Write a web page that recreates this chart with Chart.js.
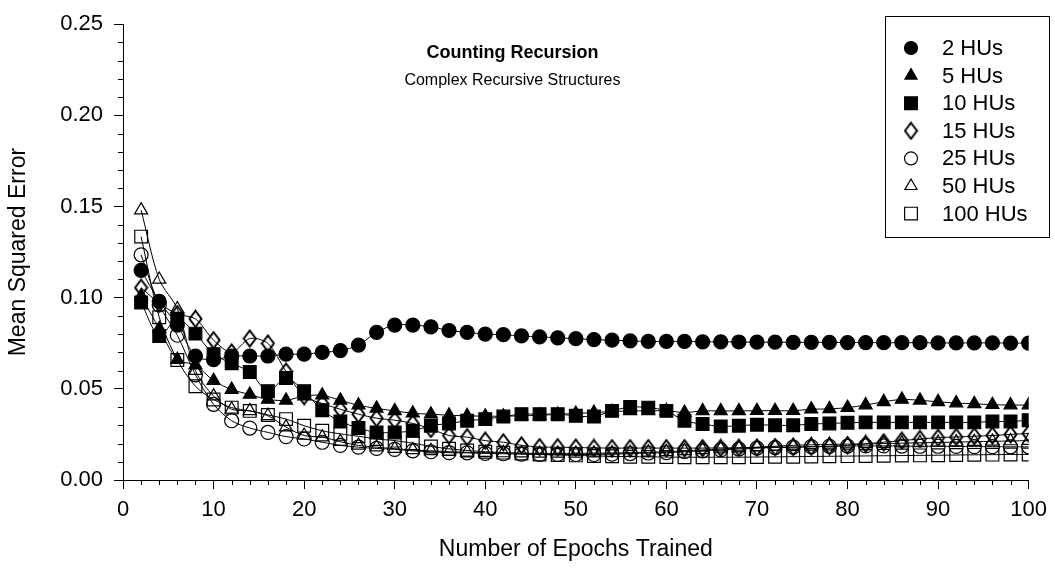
<!DOCTYPE html>
<html>
<head>
<meta charset="utf-8">
<title>Counting Recursion</title>
<script src="https://cdn.jsdelivr.net/npm/chart.js@4.4.1/dist/chart.umd.min.js"></script>
<style>
  html, body { margin: 0; padding: 0; background: #fff; }
  #wrap { width: 1055px; height: 569px; }
</style>
</head>
<body>
<div id="wrap"><canvas id="mseChart" width="1055" height="569"></canvas></div>
<script>
// Epochs trained (x values)
const epochs = [2,4,6,8,10,12,14,16,18,20,22,24,26,28,30,32,34,36,38,40,42,44,46,48,50,
                52,54,56,58,60,62,64,66,68,70,72,74,76,78,80,82,84,86,88,90,92,94,96,98,100];

// Mean squared error per network size
const hu2   = [0.115,0.098,0.085,0.068,0.066,0.068,0.068,0.068,0.069,0.069,0.070,0.071,0.074,0.081,0.085,0.085,0.084,0.082,0.081,0.080,
               0.0797,0.079,0.0785,0.078,0.0775,0.077,0.0767,0.0763,0.076,0.076,0.076,0.0758,0.0758,0.0757,0.0756,0.0756,0.0755,0.0755,0.0755,0.0754,
               0.0754,0.0753,0.0753,0.0753,0.0752,0.0752,0.0752,0.0752,0.0751,0.0751];
const hu5   = [0.101,0.083,0.066,0.063,0.0545,0.0496,0.0469,0.0442,0.0437,0.046,0.0465,0.0437,0.041,0.0393,0.0379,0.0366,0.0361,0.0355,0.0352,0.035,
               0.035,0.0352,0.0355,0.036,0.0365,0.037,0.0375,0.0379,0.0379,0.038,0.037,0.0379,0.0379,0.0379,0.038,0.038,0.038,0.0388,0.039,0.0397,
               0.0411,0.0429,0.0442,0.0437,0.0429,0.0422,0.0418,0.0413,0.0411,0.0411];
const hu10  = [0.0974,0.079,0.0884,0.0803,0.069,0.064,0.0592,0.0487,0.0559,0.0487,0.0383,0.0321,0.0285,0.0261,0.0261,0.027,0.0298,0.031,0.0325,0.0334,
               0.0348,0.0361,0.0361,0.0361,0.0352,0.0348,0.0379,0.040,0.0397,0.0379,0.0325,0.0307,0.0294,0.0298,0.0303,0.030,0.030,0.0307,0.031,0.0314,
               0.0316,0.0316,0.0316,0.0316,0.0316,0.0316,0.0316,0.0321,0.0321,0.0328];
const hu15  = [0.1055,0.097,0.091,0.0884,0.0767,0.070,0.0776,0.0749,0.0595,0.046,0.042,0.0388,0.0361,0.0339,0.0328,0.031,0.028,0.0244,0.0235,0.0216,
               0.0207,0.019,0.0181,0.018,0.0178,0.0176,0.0175,0.0175,0.0175,0.0175,0.0175,0.0175,0.0176,0.0177,0.0178,0.018,0.018,0.0182,0.0185,0.019,
               0.0198,0.0207,0.0216,0.0225,0.0232,0.0236,0.024,0.0244,0.025,0.0255];
const hu25  = [0.1235,0.096,0.0794,0.0577,0.0415,0.0325,0.0285,0.0261,0.0238,0.0225,0.0207,0.019,0.018,0.0173,0.0168,0.016,0.0155,0.015,0.0149,0.0146,
               0.0144,0.0142,0.014,0.014,0.014,0.014,0.0142,0.0145,0.0148,0.015,0.0155,0.016,0.0165,0.017,0.0175,0.0178,0.018,0.0183,0.0185,0.0186,
               0.0187,0.0187,0.0186,0.0185,0.0185,0.0184,0.0183,0.0183,0.0182,0.0182];
const hu50  = [0.148,0.110,0.0938,0.060,0.046,0.0388,0.0379,0.0352,0.029,0.0244,0.0235,0.021,0.019,0.018,0.0172,0.0165,0.016,0.0155,0.0152,0.015,
               0.0148,0.0147,0.0146,0.0146,0.0146,0.0147,0.0148,0.015,0.0152,0.0155,0.016,0.0165,0.017,0.0175,0.018,0.0185,0.019,0.0193,0.0195,0.0197,
               0.0198,0.020,0.0202,0.0204,0.0206,0.0208,0.021,0.0212,0.0214,0.0216];
const hu100 = [0.1335,0.0893,0.0658,0.0514,0.0442,0.0397,0.0379,0.0357,0.0334,0.0298,0.027,0.0253,0.024,0.0225,0.0216,0.0202,0.0184,0.0171,0.0162,0.0155,
               0.015,0.0145,0.014,0.0137,0.0135,0.0132,0.013,0.0128,0.0127,0.0126,0.0125,0.0125,0.0125,0.0125,0.0126,0.0127,0.0128,0.0129,0.013,0.0131,
               0.0132,0.0133,0.0134,0.0135,0.0136,0.0137,0.0138,0.0139,0.014,0.014];

const seriesLabels = ['2 HUs', '5 HUs', '10 HUs', '15 HUs', '25 HUs', '50 HUs', '100 HUs'];
const seriesValues = [hu2, hu5, hu10, hu15, hu25, hu50, hu100];

const FONT = '"Liberation Sans", Arial, Helvetica, sans-serif';
const CLEAR = 'rgba(0,0,0,0)';

// tall open diamond, drawn once and used as a point style
function makeDiamond(w, h) {
  const c = document.createElement('canvas');
  c.width = w;
  c.height = h;
  const g = c.getContext('2d');
  g.strokeStyle = '#000';
  g.lineWidth = 2;
  g.lineJoin = 'miter';
  g.beginPath();
  g.moveTo(w / 2, 1.5);
  g.lineTo(w - 1.5, h / 2);
  g.lineTo(w / 2, h - 1.5);
  g.lineTo(1.5, h / 2);
  g.closePath();
  g.stroke();
  return c;
}
const diamond = makeDiamond(15, 19);

// marker look for each series (same order as the labels)
const markers = [
  { style: 'circle',   fill: '#000', r: 7,   lr: 6.5 },
  { style: 'triangle', fill: '#000', r: 7.5, lr: 7 },
  { style: 'rect',     fill: '#000', r: 9,   lr: 9 },
  { style: diamond,    fill: CLEAR,  r: 7.5, lr: 8 },
  { style: 'circle',   fill: CLEAR,  r: 7,   lr: 6.5 },
  { style: 'triangle', fill: CLEAR,  r: 7.5, lr: 7 },
  { style: 'rect',     fill: CLEAR,  r: 9,   lr: 9 }
];

const datasets = seriesLabels.map((label, i) => ({
  label: label,
  data: epochs.map((e, j) => ({ x: e, y: seriesValues[i][j] })),
  borderColor: '#000',
  borderWidth: 1,
  tension: 0.3,
  pointStyle: markers[i].style,
  pointRadius: markers[i].r,
  pointBackgroundColor: markers[i].fill,
  pointBorderColor: '#000',
  pointBorderWidth: 1.2,
  legendRadius: markers[i].lr,
  fill: false
}));

// shorter outward minor ticks on both axes
const minorTicks = {
  id: 'minorTicks',
  afterDraw(chart) {
    const { ctx, scales: { x, y } } = chart;
    ctx.save();
    ctx.strokeStyle = '#000';
    ctx.lineWidth = 1;
    ctx.beginPath();
    for (let v = 2; v < 100; v += 2) {
      if (v % 10 === 0) continue;
      const px = Math.round(x.getPixelForValue(v)) + 0.5;
      ctx.moveTo(px, x.top);
      ctx.lineTo(px, x.top + 5);
    }
    for (let k = 1; k < 25; k++) {
      if (k % 5 === 0) continue;
      const py = Math.round(y.getPixelForValue(k / 100)) + 0.5;
      ctx.moveTo(y.right, py);
      ctx.lineTo(y.right - 5, py);
    }
    ctx.stroke();
    ctx.restore();
  }
};

// title text inside the plot and boxed legend at top right
const plotText = {
  id: 'plotText',
  afterDatasetsDraw(chart) {
    const ctx = chart.ctx;
    const area = chart.chartArea;
    ctx.save();
    ctx.fillStyle = '#000';
    ctx.textAlign = 'center';
    ctx.textBaseline = 'middle';
    const cx = chart.scales.x.getPixelForValue(43);
    ctx.font = 'bold 18px ' + FONT;
    ctx.fillText('Counting Recursion', cx, area.top + 29);
    ctx.font = '16px ' + FONT;
    ctx.fillText('Complex Recursive Structures', cx, area.top + 56);

    // legend
    const left = 885, top = 16, w = 164, h = 221;
    ctx.fillStyle = '#fff';
    ctx.fillRect(left, top, w, h);
    ctx.strokeStyle = '#000';
    ctx.lineWidth = 1;
    ctx.strokeRect(left + 0.5, top + 0.5, w, h);
    ctx.textAlign = 'left';
    ctx.font = '22px ' + FONT;
    chart.data.datasets.forEach((ds, i) => {
      const yy = top + 32 + i * 27.6;
      ctx.fillStyle = ds.pointBackgroundColor;
      ctx.strokeStyle = '#000';
      ctx.lineWidth = 1.2;
      Chart.helpers.drawPoint(ctx, {
        pointStyle: ds.pointStyle, radius: ds.legendRadius, borderWidth: 1.2, rotation: 0
      }, left + 26, yy);
      ctx.fillStyle = '#000';
      ctx.fillText(ds.label, left + 57, yy + 1);
    });
    ctx.restore();
  }
};

const ctx = document.getElementById('mseChart').getContext('2d');
const mseChart = new Chart(ctx, {
  type: 'line',
  data: { datasets: datasets },
  options: {
    responsive: false,
    animation: false,
    layout: { padding: { top: 17, right: 25, left: 0, bottom: 0 } },
    plugins: {
      legend: { display: false },
      tooltip: { enabled: false }
    },
    scales: {
      x: {
        type: 'linear',
        min: 0,
        max: 100,
        afterFit: s => { s.height = 89; },
        ticks: {
          stepSize: 10,
          maxRotation: 0,
          autoSkip: false,
          padding: 8,
          color: '#000',
          font: { family: FONT, size: 22 }
        },
        grid: { drawOnChartArea: false, tickLength: 9, color: '#000', tickColor: '#000' },
        border: { color: '#000', width: 1 },
        title: {
          display: true,
          text: 'Number of Epochs Trained',
          color: '#000',
          font: { family: FONT, size: 23 },
          padding: { top: 0, bottom: 6 }
        }
      },
      y: {
        min: 0,
        max: 0.25,
        afterFit: s => { s.width = 123; },
        ticks: {
          stepSize: 0.05,
          padding: 11,
          color: '#000',
          font: { family: FONT, size: 22 },
          callback: v => v.toFixed(2)
        },
        grid: { drawOnChartArea: false, tickLength: 9, color: '#000', tickColor: '#000' },
        border: { color: '#000', width: 1 },
        title: {
          display: true,
          text: 'Mean Squared Error',
          color: '#000',
          font: { family: FONT, size: 23 },
          padding: { top: 5, bottom: 0 }
        }
      }
    }
  },
  plugins: [minorTicks, plotText]
});
</script>
</body>
</html>
